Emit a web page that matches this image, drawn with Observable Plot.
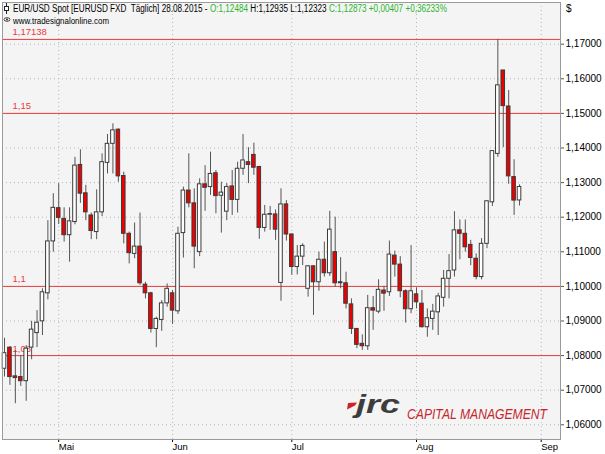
<!DOCTYPE html>
<html><head><meta charset="utf-8">
<script src="https://cdn.jsdelivr.net/npm/d3@7"></script>
<script src="https://cdn.jsdelivr.net/npm/@observablehq/plot@0.6"></script>
<style>
html,body{margin:0;padding:0;background:#fff;}
#chart svg{display:block;}
</style>
</head><body><div id="chart"></div>
<script>
// ---- data (EUR/USD daily, 17.04.2015 – 28.08.2015) ----
const dates = ["2015-04-17","2015-04-20","2015-04-21","2015-04-22","2015-04-23","2015-04-24","2015-04-27","2015-04-28","2015-04-29","2015-04-30",
"2015-05-01","2015-05-04","2015-05-05","2015-05-06","2015-05-07","2015-05-08","2015-05-11","2015-05-12","2015-05-13","2015-05-14","2015-05-15","2015-05-18","2015-05-19","2015-05-20","2015-05-21","2015-05-22","2015-05-25","2015-05-26","2015-05-27","2015-05-28","2015-05-29",
"2015-06-01","2015-06-02","2015-06-03","2015-06-04","2015-06-05","2015-06-08","2015-06-09","2015-06-10","2015-06-11","2015-06-12","2015-06-15","2015-06-16","2015-06-17","2015-06-18","2015-06-19","2015-06-22","2015-06-23","2015-06-24","2015-06-25","2015-06-26","2015-06-29","2015-06-30",
"2015-07-01","2015-07-02","2015-07-03","2015-07-06","2015-07-07","2015-07-08","2015-07-09","2015-07-10","2015-07-13","2015-07-14","2015-07-15","2015-07-16","2015-07-17","2015-07-20","2015-07-21","2015-07-22","2015-07-23","2015-07-24","2015-07-27","2015-07-28","2015-07-29","2015-07-30","2015-07-31",
"2015-08-03","2015-08-04","2015-08-05","2015-08-06","2015-08-07","2015-08-10","2015-08-11","2015-08-12","2015-08-13","2015-08-14","2015-08-17","2015-08-18","2015-08-19","2015-08-20","2015-08-21","2015-08-24","2015-08-25","2015-08-26","2015-08-27","2015-08-28"];
const open  = [1.0762,1.0823,1.0740,1.0738,1.0726,1.0823,1.0865,1.0899,1.0980,1.1130,
1.1226,1.1195,1.1148,1.1186,1.1351,1.1269,1.1205,1.1157,1.1214,1.1357,1.1412,1.1453,1.1319,1.1152,1.1094,1.1115,1.1005,1.0980,1.0877,1.0903,1.0951,
1.0980,1.0928,1.1154,1.1277,1.1240,1.1099,1.1295,1.1287,1.1327,1.1262,1.1216,1.1289,1.1250,1.1340,1.1359,1.1380,1.1345,1.1169,1.1207,1.1208,1.1010,1.1237,
1.1150,1.1056,1.1086,1.0993,1.1058,1.1012,1.1077,1.1038,1.1099,1.1012,1.1009,1.0948,1.0877,1.0834,1.0827,1.0937,1.0927,1.0988,1.0983,1.1089,1.1063,1.0986,1.0934,
1.0977,1.0950,1.0882,1.0906,1.0925,1.0967,1.1022,1.1046,1.1162,1.1152,1.1120,1.1080,1.1027,1.1123,1.1243,1.1383,1.1624,1.1520,1.1316,1.12484];
const high  = [1.0850,1.0826,1.0815,1.0800,1.0829,1.0899,1.0930,1.0993,1.1190,1.1268,
1.1297,1.1227,1.1227,1.1373,1.1395,1.1292,1.1212,1.1279,1.1383,1.1439,1.1470,1.1455,1.1330,1.1157,1.1183,1.1212,1.1012,1.0983,1.0911,1.0959,1.1007,
1.0988,1.1171,1.1287,1.1383,1.1282,1.1311,1.1349,1.1388,1.1335,1.1301,1.1297,1.1335,1.1359,1.1439,1.1401,1.1414,1.1347,1.1234,1.1231,1.1221,1.1282,1.1248,
1.1152,1.1118,1.1123,1.1060,1.1060,1.1099,1.1128,1.1217,1.1200,1.1083,1.1041,1.0964,1.0878,1.0860,1.0974,1.0971,1.1019,1.1000,1.1131,1.1102,1.1086,1.0990,1.1118,
1.0996,1.0988,1.0935,1.0948,1.0980,1.1046,1.1092,1.1216,1.1192,1.1192,1.1133,1.1094,1.1138,1.1247,1.1392,1.17138,1.1624,1.1566,1.1366,1.12935];
const low   = [1.0738,1.0714,1.0661,1.0711,1.0668,1.0788,1.0823,1.0858,1.0961,1.1099,
1.1179,1.1128,1.1070,1.1178,1.1240,1.1190,1.1135,1.1135,1.1202,1.1325,1.1325,1.1301,1.1123,1.1065,1.1080,1.1003,1.0964,1.0865,1.0823,1.0870,1.0940,
1.0890,1.0919,1.1082,1.1227,1.1051,1.1086,1.1217,1.1263,1.1210,1.1154,1.1190,1.1205,1.1212,1.1321,1.1297,1.1321,1.1136,1.1157,1.1162,1.1133,1.0957,1.1131,
1.1032,1.1033,1.1060,1.0969,1.0916,1.0986,1.1027,1.1029,1.0998,1.0993,1.0935,1.0861,1.0820,1.0815,1.0815,1.0873,1.0921,1.0928,1.0971,1.1027,1.0967,1.0894,1.0921,
1.0935,1.0880,1.0853,1.0873,1.0858,1.0940,1.0964,1.1027,1.1077,1.1099,1.1060,1.1019,1.1019,1.1109,1.1231,1.1373,1.1401,1.1295,1.1205,1.12323];
const close = [1.0807,1.0738,1.0735,1.0726,1.0820,1.0875,1.0895,1.0983,1.1130,1.1227,
1.1198,1.1148,1.1188,1.1349,1.1268,1.1214,1.1160,1.1214,1.1359,1.1412,1.1451,1.1318,1.1152,1.1096,1.1115,1.1009,1.0980,1.0877,1.0906,1.0951,1.0993,
1.0930,1.1152,1.1277,1.1240,1.1115,1.1295,1.1285,1.1325,1.1261,1.1271,1.1287,1.1250,1.1340,1.1364,1.1351,1.1343,1.1169,1.1207,1.1209,1.1164,1.1237,1.1150,
1.1056,1.1086,1.1117,1.1058,1.1012,1.1077,1.1038,1.1164,1.1009,1.1009,1.0950,1.0877,1.0831,1.0827,1.0937,1.0930,1.0990,1.0979,1.1092,1.1063,1.0986,1.0934,1.0986,
1.0954,1.0882,1.0908,1.0927,1.0971,1.1022,1.1044,1.1162,1.1152,1.1113,1.1082,1.1027,1.1123,1.1246,1.1391,1.1581,1.1521,1.1318,1.1248,1.12873];

const monthLabels = ["Mai","Jun","Jul","Aug","Sep"];
const monthIndex  = [10, 31, 53, 76, 99];   // bar index of first trading day (Sep: calendar extension)
const priceTicks  = [1.06,1.07,1.08,1.09,1.10,1.11,1.12,1.13,1.14,1.15,1.16,1.17];
const levels      = [1.17138, 1.15, 1.10, 1.08];
const levelLabels = ["1,17138", "1,15", "1,1", "1,08"];

const headerParts = [
  ["EUR/USD Spot [EURUSD FXD  Täglich] 28.08.2015 - ", "#000"],
  ["O:1,12484", "#2cb52c"],
  [" H:1,12935 L:1,12323 ", "#000"],
  ["C:1,12873 +0,00407 +0,36233%", "#2cb52c"]
];
const sourceText = "www.tradesignalonline.com";
const currencyLabel = "$";

// ---- build ----
const candles = dates.map((d, i) => ({i, date: d, o: open[i], h: high[i], l: low[i], c: close[i]}));
const levelData = levels.map((v, k) => ({v, label: levelLabels[k]}));
const fmt = d => d.toFixed(5).replace(".", ",");

const RED_LINE = "#ea3b3b";

const chart = Plot.plot({
  width: 605, height: 454,
  marginLeft: 2, marginRight: 45, marginTop: 2, marginBottom: 15,
  style: {fontFamily: "'Liberation Sans', Arial, sans-serif", fontSize: "10px", background: "#fff", color: "#000", overflow: "visible"},
  x: {type: "linear", domain: [-0.37, 102.56]},
  y: {domain: [1.05575, 1.18205]},
  marks: [
    Plot.frame({fill: "#f4f4f4", stroke: null}),
    Plot.gridY(priceTicks, {stroke: "#b8b8b8", strokeOpacity: 1, strokeDasharray: "1,3"}),
    Plot.gridX(monthIndex, {stroke: "#b8b8b8", strokeOpacity: 1, strokeDasharray: "1,3"}),
    Plot.ruleY(levelData, {y: "v", stroke: RED_LINE, strokeWidth: 1}),
    Plot.text(levelData, {y: "v", text: "label", frameAnchor: "left", textAnchor: "start", dx: 10, dy: -7, fill: RED_LINE, fontSize: 9.5}),
    Plot.ruleX(candles, {x: "i", y1: "l", y2: "h", stroke: "#555", strokeWidth: 1}),
    Plot.rect(candles, {
      x1: d => d.i - 0.33, x2: d => d.i + 0.33,
      y1: "o", y2: "c",
      fill: d => d.c >= d.o ? "#ffffff" : "#ee0000",
      stroke: "#3a3a3a", strokeWidth: 1
    }),
    Plot.axisY({anchor: "right", ticks: priceTicks, tickFormat: fmt, tickSize: 3, tickPadding: 2, label: null, fontSize: 10, stroke: "#555"}),
    Plot.axisX({ticks: monthIndex, tickFormat: d => monthLabels[monthIndex.indexOf(d)], tickSize: 3, tickPadding: 1, textAnchor: "start", label: null, fontSize: 9.5}),
    Plot.frame({stroke: "#9a9a9a"})
  ]
});
document.getElementById("chart").append(chart);

// ---- overlays: header, source, currency label, watermark ----
const svg = d3.select(chart);
const g = svg.append("g").attr("font-family", "'Liberation Sans', Arial, sans-serif").attr("text-anchor", "start");

// candle icon
g.append("line").attr("x1", 6.5).attr("x2", 6.5).attr("y1", 3).attr("y2", 14).attr("stroke", "#222");
g.append("rect").attr("x", 4.5).attr("y", 6.5).attr("width", 4).attr("height", 4).attr("fill", "#fff").attr("stroke", "#222");

// header: separate pieces laid out one after another, then scaled to the reference width
const hg = g.append("g");
let cursor = 0;
headerParts.forEach(([t, col]) => {
  const el = hg.append("text").attr("x", cursor).attr("y", 0).attr("font-size", 10)
    .attr("fill", col).attr("text-anchor", "start").style("white-space", "pre").text(t);
  cursor += el.node().getComputedTextLength();
});
const sx = 434 / cursor;
hg.attr("transform", `translate(13,12) scale(${sx},1)`);

// eye icon
g.append("ellipse").attr("cx", 7).attr("cy", 19.5).attr("rx", 3).attr("ry", 1.8).attr("fill", "none").attr("stroke", "#333").attr("stroke-width", 0.9);
g.append("circle").attr("cx", 7).attr("cy", 19.5).attr("r", 1).attr("fill", "#333");
g.append("text").attr("x", 13).attr("y", 24).attr("font-size", 9.5).attr("fill", "#000").attr("text-anchor", "start")
  .attr("textLength", 96).attr("lengthAdjust", "spacingAndGlyphs").text(sourceText);

g.append("text").attr("x", 566).attr("y", 12).attr("font-size", 10).attr("fill", "#000").attr("text-anchor", "start").text(currencyLabel);

// watermark logo
g.append("polygon").attr("points", "348,403 357,402.5 355,405.5 347,409.5").attr("fill", "#d0202a");
g.append("text").attr("x", 356).attr("y", 413).attr("font-size", 26).attr("font-style", "italic").attr("font-weight", "bold").attr("text-anchor", "start")
  .attr("fill", "#3d3d3d").attr("textLength", 44).attr("lengthAdjust", "spacingAndGlyphs").text("jrc");
g.append("text").attr("x", 407).attr("y", 419).attr("font-size", 14.5).attr("font-style", "italic").attr("text-anchor", "start")
  .attr("fill", "#c4262e").attr("textLength", 140).attr("lengthAdjust", "spacingAndGlyphs").text("CAPITAL MANAGEMENT");
</script>
</body></html>
